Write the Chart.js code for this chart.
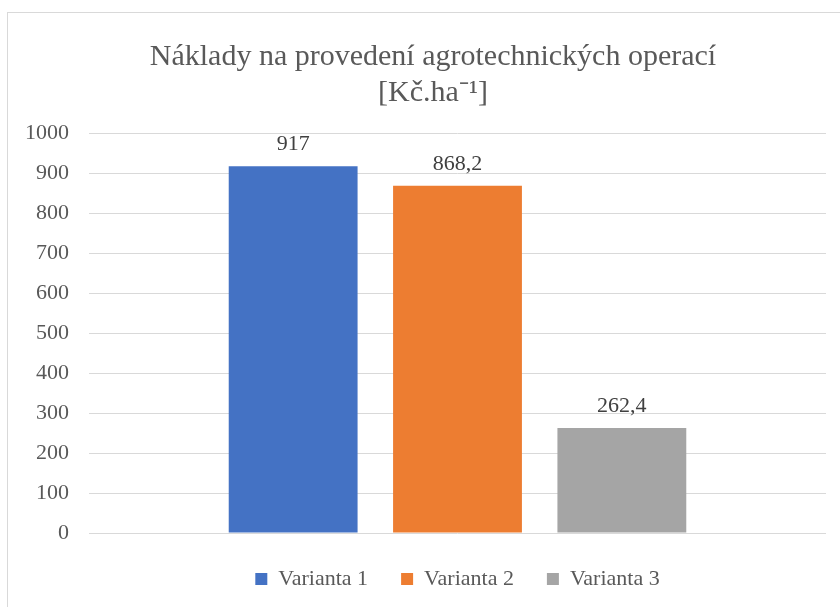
<!DOCTYPE html>
<html>
<head>
<meta charset="utf-8">
<script src="https://cdn.jsdelivr.net/npm/chart.js@4"></script>
<style>
  html, body { margin: 0; padding: 0; background: #fff; overflow: hidden; }
  #box {
    position: absolute; left: 7px; top: 12px;
    width: 882px; height: 600px;
    border: 1px solid #d9d9d9; background: #fff;
  }
</style>
</head>
<body>
<div id="box"><canvas id="chart"></canvas></div>
<script>
// Values
const TITLE_LINES = ["Náklady na provedení agrotechnických operací", "[Kč.ha\u207B\u00B9]"];
const CATEGORIES = [""];
const SERIES_NAMES = ["Varianta 1", "Varianta 2", "Varianta 3"];
const SERIES_VALUES = [917, 868.2, 262.4];
const SERIES_COLORS = ["#4472c4", "#ed7d31", "#a5a5a5"];
const Y_MIN = 0, Y_MAX = 1000, Y_STEP = 100;

const FONT = "'Liberation Serif', 'Times New Roman', serif";

const fmt = v => String(v).replace(".", ",");

// value labels above each bar
const barLabels = {
  id: "barLabels",
  afterDatasetsDraw(chart) {
    const ctx = chart.ctx;
    ctx.save();
    ctx.font = "22px " + FONT;
    ctx.fillStyle = "#404040";
    ctx.textAlign = "center";
    ctx.textBaseline = "alphabetic";
    chart.data.datasets.forEach((ds, i) => {
      chart.getDatasetMeta(i).data.forEach((bar, j) => {
        ctx.fillText(fmt(ds.data[j]), bar.x, bar.y - 16);
      });
    });
    ctx.restore();
  }
};

new Chart(document.getElementById("chart"), {
  type: "bar",
  data: {
    labels: CATEGORIES,
    datasets: SERIES_NAMES.map((name, i) => ({
      label: name,
      data: [SERIES_VALUES[i]],
      backgroundColor: SERIES_COLORS[i]
    }))
  },
  options: {
    responsive: true,
    maintainAspectRatio: false,
    animation: false,
    categoryPercentage: 0.669,
    barPercentage: 0.784,
    layout: { padding: { left: -3, right: 29, top: 0, bottom: 13 } },
    plugins: {
      tooltip: { enabled: false },
      title: {
        display: true,
        text: TITLE_LINES,
        color: "#595959",
        font: { family: FONT, size: 30, weight: "normal", lineHeight: 1.2 },
        padding: { top: 26, bottom: 22 }
      },
      legend: {
        position: "bottom",
        fullSize: false,
        labels: {
          color: "#595959",
          font: { family: FONT, size: 22 },
          boxWidth: 12,
          boxHeight: 12,
          padding: 33
        }
      }
    },
    scales: {
      x: {
        ticks: { display: false },
        grid: { display: false, drawTicks: false },
        border: { display: false },
        afterFit: axis => { axis.height = 2; }
      },
      y: {
        min: Y_MIN,
        max: Y_MAX,
        ticks: {
          stepSize: Y_STEP,
          color: "#595959",
          font: { family: FONT, size: 22 },
          padding: 20,
          callback: v => String(v)
        },
        grid: { color: "#d9d9d9", lineWidth: 1, drawTicks: false },
        border: { display: false }
      },
      // empty right-hand margin inside the chart box
      yRight: {
        position: "right",
        display: true,
        ticks: { display: false },
        grid: { display: false, drawTicks: false },
        border: { display: false },
        afterFit: axis => { axis.width = 35; }
      }
    }
  },
  plugins: [barLabels]
});
</script>
</body>
</html>
